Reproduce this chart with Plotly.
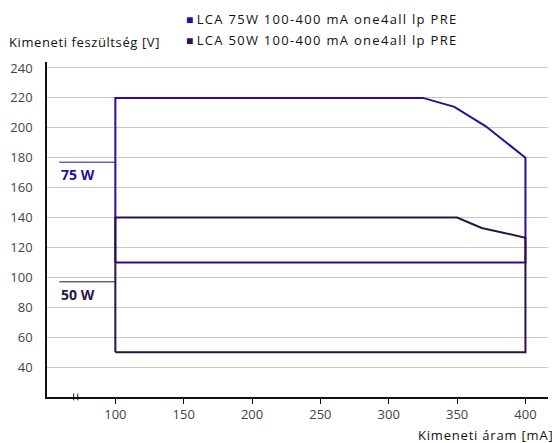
import plotly.graph_objects as go

# 75W driver operating window (current mA, voltage V)
lca75_current = [100, 100, 325, 348, 371, 400, 400, 100]
lca75_voltage = [110, 220, 220, 214, 201, 180, 110, 110]

# 50W driver operating window
lca50_current = [100, 100, 350, 368, 400, 400, 100]
lca50_voltage = [50, 140, 140, 133, 126.5, 50, 50]

# short reference marks beside the y axis
mark75_x = [59, 100]
mark75_y = [177, 177]
mark50_x = [59, 100]
mark50_y = [97, 97]

series_names = ["LCA 75W 100-400 mA one4all lp PRE", "LCA 50W 100-400 mA one4all lp PRE"]
x_ticks = [100, 150, 200, 250, 300, 350, 400]
y_ticks = [40, 60, 80, 100, 120, 140, 160, 180, 200, 220, 240]

c75 = "#2e0b9e"
c50 = "#2b1445"
font_family = "Open Sans, sans-serif"

# page body adds an 8px offset, so the figure is 8px smaller and shifted
OFF = 8
W, H = 560 - OFF, 443 - OFF
L, R, T, B = 47 - OFF, 12, 62 - OFF, 46
pw, ph = W - L - R, H - T - B


def px(x, y):
    """pixel position in the 560x443 screenshot -> paper coords"""
    return (x - OFF - L) / pw, (H - B - (y - OFF)) / ph


def spaced(txt, ls):
    return f"<span style='letter-spacing:{ls}px'>{txt}</span>"


fig = go.Figure()
fig.add_trace(go.Scatter(x=lca75_current, y=lca75_voltage, mode="lines",
                         line=dict(color=c75, width=2), name=series_names[0], showlegend=False))
fig.add_trace(go.Scatter(x=lca50_current, y=lca50_voltage, mode="lines",
                         line=dict(color=c50, width=2), name=series_names[1], showlegend=False))
fig.add_trace(go.Scatter(x=mark75_x, y=mark75_y, mode="lines",
                         line=dict(color=c75, width=1), showlegend=False))
fig.add_trace(go.Scatter(x=mark50_x, y=mark50_y, mode="lines",
                         line=dict(color=c50, width=1), showlegend=False))

annotations = [
    dict(text="75 W", x=59, y=168.5, xref="x", yref="y", xanchor="left", showarrow=False,
         font=dict(size=14, color=c75, weight="bold")),
    dict(text="50 W", x=59, y=88.5, xref="x", yref="y", xanchor="left", showarrow=False,
         font=dict(size=14, color=c50, weight="bold")),
]
tx, ty = px(7, 42)
annotations.append(dict(text=spaced("Kimeneti feszültség [V]", 0.6), x=tx, y=ty,
                        xref="paper", yref="paper", xanchor="left", yanchor="middle",
                        showarrow=False, font=dict(size=13, color="#111")))
tx, ty = px(555, 435)
annotations.append(dict(text=spaced("Kimeneti áram [mA]", 0.8), x=tx, y=ty,
                        xref="paper", yref="paper", xanchor="right", yanchor="middle",
                        showarrow=False, font=dict(size=13, color="#111")))
# legend drawn as text rows with coloured squares
for i, (nm, col) in enumerate(zip(series_names, [c75, c50])):
    tx, ty = px(184, 19 + 21 * i)
    annotations.append(dict(
        text=f"<span style='color:{col};font-size:12px'>■</span> " + spaced(nm, 1.3),
        x=tx, y=ty, xref="paper", yref="paper", xanchor="left", yanchor="middle",
        showarrow=False, font=dict(size=13, color="#111")))

fig.update_layout(
    width=W, height=H,
    margin=dict(l=L, r=R, t=T, b=B),
    paper_bgcolor="white", plot_bgcolor="white",
    font=dict(family=font_family, size=13, color="#444"),
    annotations=annotations,
    xaxis=dict(range=[50, 416.5], tickvals=x_ticks, showgrid=False, zeroline=False,
               showline=True, linecolor="#111", linewidth=1.5, ticks="outside",
               ticklen=5, tickcolor="#111", automargin=False,
               tickfont=dict(size=13, color="#444")),
    yaxis=dict(range=[20, 244], tickvals=y_ticks, showgrid=True, gridcolor="#c8c8c8",
               gridwidth=1, zeroline=False, showline=True, linecolor="#111",
               linewidth=1.5, ticks="", ticklabelstandoff=10, automargin=False,
               tickfont=dict(size=13, color="#444")),
    shapes=[
        dict(type="line", xref="x", yref="paper", x0=v, x1=v, y0=-0.01, y1=0.01,
             line=dict(color="#111", width=1))
        for v in (69.5, 72.5)
    ],
)

fig.write_html("out.html")
